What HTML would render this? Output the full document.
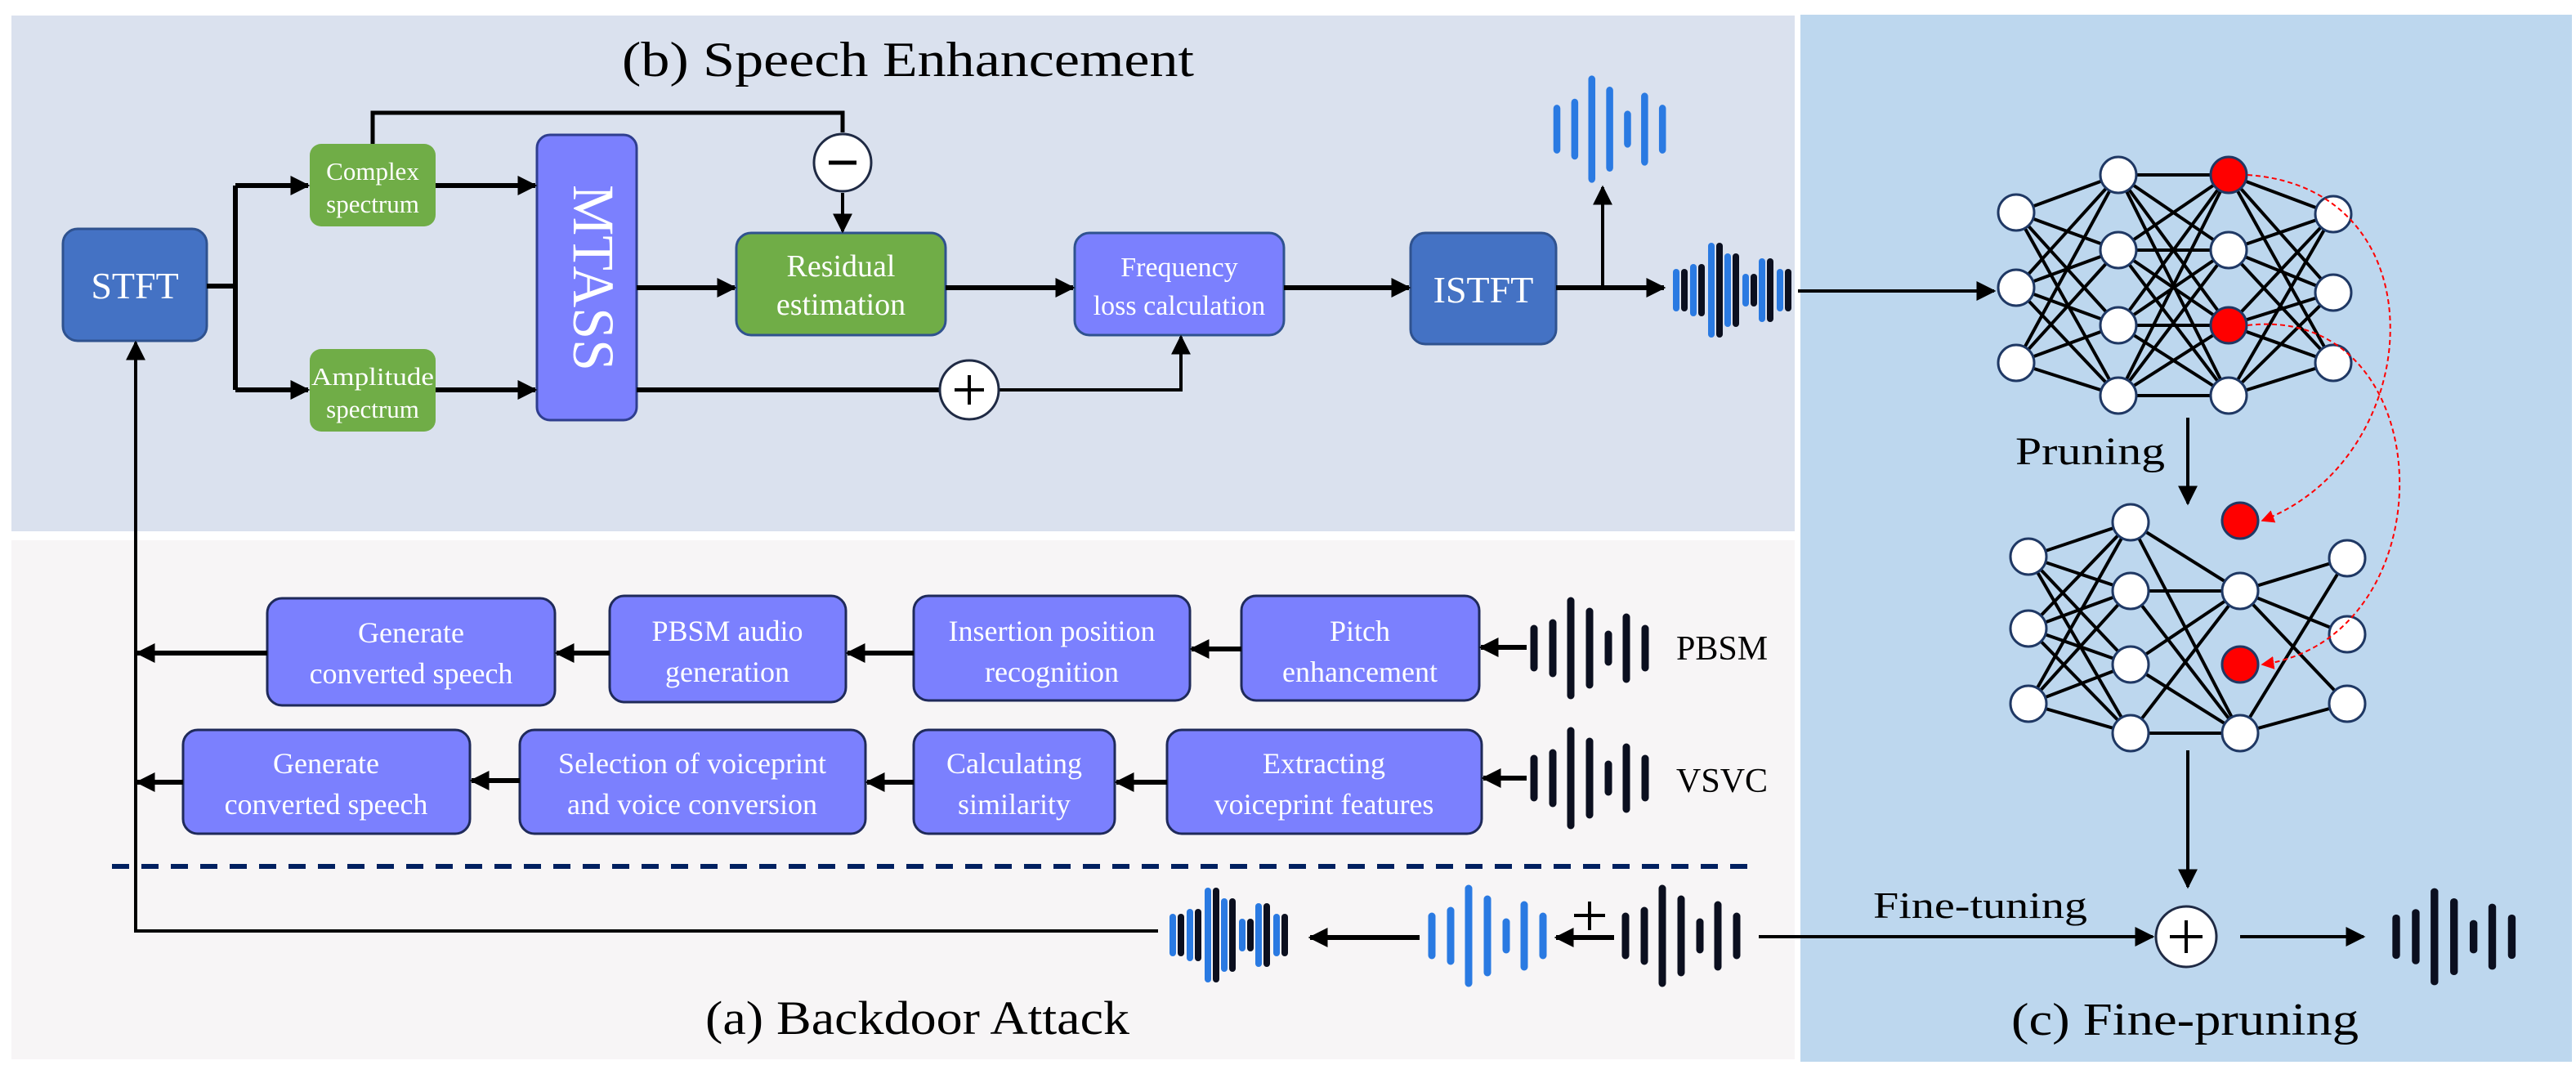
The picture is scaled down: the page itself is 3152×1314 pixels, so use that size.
<!DOCTYPE html>
<html><head><meta charset="utf-8"><style>html,body{margin:0;padding:0;background:#fff}svg{display:block}svg text{font-family:"Liberation Serif",serif}</style></head>
<body>
<svg width="3152" height="1314" viewBox="0 0 3152 1314" xmlns="http://www.w3.org/2000/svg" font-family="Liberation Serif, serif">
<defs>
<marker id="ah" viewBox="0 0 10 10" refX="9" refY="5" markerWidth="4" markerHeight="4" orient="auto" markerUnits="strokeWidth"><path d="M0,0 L10,5 L0,10 z" fill="#000"/></marker>
<marker id="ah2" viewBox="0 0 10 10" refX="9" refY="5" markerWidth="6" markerHeight="6" orient="auto" markerUnits="strokeWidth"><path d="M0,0 L10,5 L0,10 z" fill="#000"/></marker>
<marker id="ahr" viewBox="0 0 10 10" refX="9" refY="5" markerWidth="8" markerHeight="8" orient="auto" markerUnits="strokeWidth"><path d="M0,0 L10,5 L0,10 z" fill="#f00"/></marker>
<g id="wave" stroke-width="9" stroke-linecap="round">
<line x1="0" y1="-24" x2="0" y2="24"/><line x1="23" y1="-31" x2="23" y2="31"/><line x1="45" y1="-58" x2="45" y2="58"/><line x1="68" y1="-45" x2="68" y2="45"/><line x1="91" y1="-17" x2="91" y2="17"/><line x1="113" y1="-38" x2="113" y2="38"/><line x1="136" y1="-24" x2="136" y2="24"/>
</g>
<g id="mix" stroke-width="8" stroke-linecap="round">
<g stroke="#2a7ae2"><line x1="0" y1="-22" x2="0" y2="22"/><line x1="21" y1="-28" x2="21" y2="28"/><line x1="43" y1="-54" x2="43" y2="54"/><line x1="63" y1="-41" x2="63" y2="41"/><line x1="85" y1="-16" x2="85" y2="16"/><line x1="105" y1="-35" x2="105" y2="35"/><line x1="127" y1="-22" x2="127" y2="22"/></g>
<g stroke="#0b0f1f"><line x1="10" y1="-22" x2="10" y2="22"/><line x1="31" y1="-28" x2="31" y2="28"/><line x1="53" y1="-54" x2="53" y2="54"/><line x1="73" y1="-41" x2="73" y2="41"/><line x1="95" y1="-16" x2="95" y2="16"/><line x1="115" y1="-35" x2="115" y2="35"/><line x1="137" y1="-22" x2="137" y2="22"/></g>
</g>
</defs>

<rect x="14" y="19" width="2182" height="631" fill="#dae1ee"/>
<rect x="14" y="661" width="2182" height="635" fill="#f7f5f6"/>
<rect x="2203" y="18" width="944" height="1281" fill="#bdd7ee"/>

<text x="1111" y="93" font-size="60" text-anchor="middle" textLength="700" lengthAdjust="spacingAndGlyphs">(b) Speech Enhancement</text>

<rect x="77" y="280" width="176" height="137" rx="18" fill="#4472c4" stroke="#2f528f" stroke-width="3"/>
<text x="165" y="365" font-size="46" fill="#fff" text-anchor="middle">STFT</text>
<rect x="379" y="176" width="154" height="101" rx="14" fill="#70ad47"/>
<text x="456" y="220" font-size="31" fill="#fff" text-anchor="middle">Complex</text>
<text x="456" y="260" font-size="31" fill="#fff" text-anchor="middle">spectrum</text>
<rect x="379" y="427" width="154" height="101" rx="14" fill="#70ad47"/>
<text x="456" y="471" font-size="31" fill="#fff" text-anchor="middle" textLength="150" lengthAdjust="spacingAndGlyphs">Amplitude</text>
<text x="456" y="511" font-size="31" fill="#fff" text-anchor="middle">spectrum</text>
<rect x="657" y="165" width="122" height="349" rx="16" fill="#7b80fe" stroke="#2f3e8f" stroke-width="3"/>
<text transform="translate(702,340) rotate(90)" font-size="72" fill="#fff" text-anchor="middle" textLength="228" lengthAdjust="spacingAndGlyphs">MTASS</text>
<rect x="901" y="285" width="256" height="125" rx="18" fill="#70ad47" stroke="#2f528f" stroke-width="3"/>
<text x="1029" y="338" font-size="38" fill="#fff" text-anchor="middle">Residual</text>
<text x="1029" y="385" font-size="38" fill="#fff" text-anchor="middle">estimation</text>
<rect x="1315" y="285" width="256" height="125" rx="18" fill="#7b80fe" stroke="#2f528f" stroke-width="3"/>
<text x="1443" y="338" font-size="34" fill="#fff" text-anchor="middle">Frequency</text>
<text x="1443" y="385" font-size="34" fill="#fff" text-anchor="middle">loss calculation</text>
<rect x="1726" y="285" width="178" height="136" rx="18" fill="#4472c4" stroke="#2f528f" stroke-width="3"/>
<text x="1815" y="370" font-size="46" fill="#fff" text-anchor="middle">ISTFT</text>

<g stroke="#000" stroke-width="6" fill="none">
<line x1="253" y1="350" x2="288" y2="350"/>
<line x1="288" y1="227" x2="288" y2="477"/>
<line x1="288" y1="227" x2="377" y2="227" marker-end="url(#ah)"/>
<line x1="288" y1="477" x2="377" y2="477" marker-end="url(#ah)"/>
<line x1="533" y1="227" x2="655" y2="227" marker-end="url(#ah)"/>
<line x1="533" y1="477" x2="655" y2="477" marker-end="url(#ah)"/>
<polyline points="456,176 456,138 1031,138 1031,162" stroke-width="5"/>
<line x1="1031" y1="236" x2="1031" y2="283" stroke-width="4" marker-end="url(#ah2)"/>
<line x1="779" y1="352" x2="899" y2="352" marker-end="url(#ah)"/>
<line x1="1157" y1="352" x2="1313" y2="352" marker-end="url(#ah)"/>
<line x1="1571" y1="352" x2="1724" y2="352" marker-end="url(#ah)"/>
<line x1="779" y1="477" x2="1150" y2="477"/>
<polyline points="1222,477 1445,477 1445,412" marker-end="url(#ah2)" stroke-width="4"/>
<line x1="1904" y1="352" x2="2036" y2="352" marker-end="url(#ah)"/>
<line x1="1961" y1="352" x2="1961" y2="229" stroke-width="4" marker-end="url(#ah2)"/>
<line x1="2200" y1="356" x2="2440" y2="356" stroke-width="4" marker-end="url(#ah2)"/>
</g>
<circle cx="1031" cy="199" r="35" fill="#fff" stroke="#1f2a44" stroke-width="3"/>
<line x1="1014" y1="199" x2="1048" y2="199" stroke="#000" stroke-width="5"/>
<circle cx="1186" cy="477" r="36" fill="#fff" stroke="#1f2a44" stroke-width="3"/>
<line x1="1168" y1="477" x2="1204" y2="477" stroke="#000" stroke-width="4"/>
<line x1="1186" y1="459" x2="1186" y2="495" stroke="#000" stroke-width="4"/>

<use href="#wave" transform="translate(1905,158) scale(0.95,1.05)" stroke="#2a7ae2"/>
<use href="#mix" transform="translate(2051,355)"/>

<polyline points="1417,1139 166,1139 166,419" fill="none" stroke="#000" stroke-width="4" marker-end="url(#ah2)"/>

<g fill="#7b80fe" stroke="#1f2a5a" stroke-width="3">
<rect x="327" y="732" width="352" height="131" rx="18"/>
<rect x="746" y="729" width="289" height="130" rx="18"/>
<rect x="1118" y="729" width="338" height="128" rx="18"/>
<rect x="1519" y="729" width="291" height="128" rx="18"/>
<rect x="224" y="893" width="351" height="127" rx="18"/>
<rect x="636" y="893" width="423" height="127" rx="18"/>
<rect x="1118" y="893" width="246" height="127" rx="18"/>
<rect x="1428" y="893" width="385" height="127" rx="18"/>
</g>
<g font-size="36" fill="#fff" text-anchor="middle">
<text x="503" y="786">Generate</text><text x="503" y="836">converted speech</text>
<text x="890" y="784">PBSM audio</text><text x="890" y="834">generation</text>
<text x="1287" y="784">Insertion position</text><text x="1287" y="834">recognition</text>
<text x="1664" y="784">Pitch</text><text x="1664" y="834">enhancement</text>
<text x="399" y="946">Generate</text><text x="399" y="996">converted speech</text>
<text x="847" y="946">Selection of voiceprint</text><text x="847" y="996">and voice conversion</text>
<text x="1241" y="946">Calculating</text><text x="1241" y="996">similarity</text>
<text x="1620" y="946">Extracting</text><text x="1620" y="996">voiceprint features</text>
</g>
<g stroke="#000" stroke-width="6" fill="none">
<line x1="327" y1="799" x2="168" y2="799" marker-end="url(#ah)"/>
<line x1="746" y1="799" x2="681" y2="799" marker-end="url(#ah)"/>
<line x1="1118" y1="799" x2="1037" y2="799" marker-end="url(#ah)"/>
<line x1="1519" y1="794" x2="1458" y2="794" marker-end="url(#ah)"/>
<line x1="1868" y1="792" x2="1812" y2="792" marker-end="url(#ah)"/>
<line x1="224" y1="957" x2="168" y2="957" marker-end="url(#ah)"/>
<line x1="636" y1="955" x2="577" y2="955" marker-end="url(#ah)"/>
<line x1="1118" y1="957" x2="1061" y2="957" marker-end="url(#ah)"/>
<line x1="1428" y1="957" x2="1366" y2="957" marker-end="url(#ah)"/>
<line x1="1868" y1="952" x2="1815" y2="952" marker-end="url(#ah)"/>
</g>
<use href="#wave" transform="translate(1877,793)" stroke="#0b0f1f"/>
<use href="#wave" transform="translate(1877,952)" stroke="#0b0f1f"/>
<text x="2051" y="807" font-size="42">PBSM</text>
<text x="2051" y="969" font-size="42">VSVC</text>

<line x1="137" y1="1060" x2="2140" y2="1060" stroke="#002060" stroke-width="6" stroke-dasharray="21,15"/>

<use href="#mix" transform="translate(1435,1144)"/>
<use href="#wave" transform="translate(1752,1145)" stroke="#2a7ae2"/>
<use href="#wave" transform="translate(1989,1145)" stroke="#0b0f1f"/>
<g stroke="#000" fill="none">
<line x1="1737" y1="1147" x2="1603" y2="1147" stroke-width="6" marker-end="url(#ah)"/>
<line x1="1975" y1="1147" x2="1904" y2="1147" stroke-width="6" marker-end="url(#ah)"/>
<line x1="1926" y1="1120" x2="1964" y2="1120" stroke-width="4"/>
<line x1="1945" y1="1103" x2="1945" y2="1138" stroke-width="4"/>
<line x1="2152" y1="1146" x2="2634" y2="1146" stroke-width="4" marker-end="url(#ah2)"/>
<line x1="2741" y1="1146" x2="2892" y2="1146" stroke-width="4" marker-end="url(#ah2)"/>
<line x1="2677" y1="511" x2="2677" y2="616" stroke-width="4" marker-end="url(#ah2)"/>
<line x1="2677" y1="918" x2="2677" y2="1085" stroke-width="4" marker-end="url(#ah2)"/>
</g>
<circle cx="2675" cy="1146" r="37" fill="#fff" stroke="#1f2a44" stroke-width="3"/>
<line x1="2655" y1="1146" x2="2695" y2="1146" stroke="#000" stroke-width="4"/>
<line x1="2675" y1="1126" x2="2675" y2="1166" stroke="#000" stroke-width="4"/>
<use href="#wave" transform="translate(2932,1146) scale(1.04,0.95)" stroke="#0b0f1f"/>

<text x="2292" y="1123" font-size="46" textLength="262" lengthAdjust="spacingAndGlyphs">Fine-tuning</text>
<text x="2466" y="568" font-size="48" textLength="183" lengthAdjust="spacingAndGlyphs">Pruning</text>
<text x="2461" y="1266" font-size="56" textLength="425" lengthAdjust="spacingAndGlyphs">(c) Fine-pruning</text>
<text x="863" y="1265" font-size="58" textLength="519" lengthAdjust="spacingAndGlyphs">(a) Backdoor Attack</text>

<g stroke="#000" stroke-width="4">
<line x1="2467" y1="260" x2="2592" y2="214"/><line x1="2467" y1="260" x2="2592" y2="306"/><line x1="2467" y1="260" x2="2592" y2="398"/><line x1="2467" y1="260" x2="2592" y2="484"/>
<line x1="2467" y1="352" x2="2592" y2="214"/><line x1="2467" y1="352" x2="2592" y2="306"/><line x1="2467" y1="352" x2="2592" y2="398"/><line x1="2467" y1="352" x2="2592" y2="484"/>
<line x1="2467" y1="444" x2="2592" y2="214"/><line x1="2467" y1="444" x2="2592" y2="306"/><line x1="2467" y1="444" x2="2592" y2="398"/><line x1="2467" y1="444" x2="2592" y2="484"/>
<line x1="2592" y1="214" x2="2727" y2="214"/><line x1="2592" y1="214" x2="2727" y2="306"/><line x1="2592" y1="214" x2="2727" y2="398"/><line x1="2592" y1="214" x2="2727" y2="484"/>
<line x1="2592" y1="306" x2="2727" y2="214"/><line x1="2592" y1="306" x2="2727" y2="306"/><line x1="2592" y1="306" x2="2727" y2="398"/><line x1="2592" y1="306" x2="2727" y2="484"/>
<line x1="2592" y1="398" x2="2727" y2="214"/><line x1="2592" y1="398" x2="2727" y2="306"/><line x1="2592" y1="398" x2="2727" y2="398"/><line x1="2592" y1="398" x2="2727" y2="484"/>
<line x1="2592" y1="484" x2="2727" y2="214"/><line x1="2592" y1="484" x2="2727" y2="306"/><line x1="2592" y1="484" x2="2727" y2="398"/><line x1="2592" y1="484" x2="2727" y2="484"/>
<line x1="2727" y1="214" x2="2855" y2="262"/><line x1="2727" y1="214" x2="2855" y2="358"/><line x1="2727" y1="214" x2="2855" y2="444"/>
<line x1="2727" y1="306" x2="2855" y2="262"/><line x1="2727" y1="306" x2="2855" y2="358"/><line x1="2727" y1="306" x2="2855" y2="444"/>
<line x1="2727" y1="398" x2="2855" y2="262"/><line x1="2727" y1="398" x2="2855" y2="358"/><line x1="2727" y1="398" x2="2855" y2="444"/>
<line x1="2727" y1="484" x2="2855" y2="262"/><line x1="2727" y1="484" x2="2855" y2="358"/><line x1="2727" y1="484" x2="2855" y2="444"/>
</g>
<g stroke="#000" stroke-width="4">
<line x1="2482" y1="681" x2="2607" y2="639"/><line x1="2482" y1="681" x2="2607" y2="723"/><line x1="2482" y1="681" x2="2607" y2="813"/><line x1="2482" y1="681" x2="2607" y2="897"/>
<line x1="2482" y1="769" x2="2607" y2="639"/><line x1="2482" y1="769" x2="2607" y2="723"/><line x1="2482" y1="769" x2="2607" y2="813"/><line x1="2482" y1="769" x2="2607" y2="897"/>
<line x1="2482" y1="861" x2="2607" y2="639"/><line x1="2482" y1="861" x2="2607" y2="723"/><line x1="2482" y1="861" x2="2607" y2="813"/><line x1="2482" y1="861" x2="2607" y2="897"/>
<line x1="2607" y1="639" x2="2741" y2="723"/><line x1="2607" y1="639" x2="2741" y2="897"/>
<line x1="2607" y1="723" x2="2741" y2="723"/><line x1="2607" y1="723" x2="2741" y2="897"/>
<line x1="2607" y1="813" x2="2741" y2="723"/><line x1="2607" y1="813" x2="2741" y2="897"/>
<line x1="2607" y1="897" x2="2741" y2="723"/><line x1="2607" y1="897" x2="2741" y2="897"/>
<line x1="2741" y1="723" x2="2872" y2="683"/><line x1="2741" y1="723" x2="2872" y2="776"/><line x1="2741" y1="723" x2="2872" y2="861"/>
<line x1="2741" y1="897" x2="2872" y2="683"/><line x1="2741" y1="897" x2="2872" y2="861"/>
</g>
<g fill="#fff" stroke="#1f3864" stroke-width="3">
<ellipse cx="2467" cy="260" rx="22" ry="22"/><ellipse cx="2467" cy="352" rx="22" ry="22"/><ellipse cx="2467" cy="444" rx="22" ry="22"/>
<ellipse cx="2592" cy="214" rx="22" ry="22"/><ellipse cx="2592" cy="306" rx="22" ry="22"/><ellipse cx="2592" cy="398" rx="22" ry="22"/><ellipse cx="2592" cy="484" rx="22" ry="22"/>
<ellipse cx="2727" cy="214" rx="22" ry="22" fill="#f00"/><ellipse cx="2727" cy="306" rx="22" ry="22"/><ellipse cx="2727" cy="398" rx="22" ry="22" fill="#f00"/><ellipse cx="2727" cy="484" rx="22" ry="22"/>
<ellipse cx="2855" cy="262" rx="22" ry="22"/><ellipse cx="2855" cy="358" rx="22" ry="22"/><ellipse cx="2855" cy="444" rx="22" ry="22"/>
<ellipse cx="2482" cy="681" rx="22" ry="22"/><ellipse cx="2482" cy="769" rx="22" ry="22"/><ellipse cx="2482" cy="861" rx="22" ry="22"/>
<ellipse cx="2607" cy="639" rx="22" ry="22"/><ellipse cx="2607" cy="723" rx="22" ry="22"/><ellipse cx="2607" cy="813" rx="22" ry="22"/><ellipse cx="2607" cy="897" rx="22" ry="22"/>
<ellipse cx="2741" cy="637" rx="22" ry="22" fill="#f00"/><ellipse cx="2741" cy="723" rx="22" ry="22"/><ellipse cx="2741" cy="813" rx="22" ry="22" fill="#f00"/><ellipse cx="2741" cy="897" rx="22" ry="22"/>
<ellipse cx="2872" cy="683" rx="22" ry="22"/><ellipse cx="2872" cy="776" rx="22" ry="22"/><ellipse cx="2872" cy="861" rx="22" ry="22"/>
</g>
<g fill="none" stroke="#f00" stroke-width="2" stroke-dasharray="6,4">
<path d="M2750,214 C2990,230 2970,560 2768,637" marker-end="url(#ahr)"/>
<path d="M2750,398 C2990,370 3000,780 2768,813" marker-end="url(#ahr)"/>
</g>
</svg>
</body></html>
